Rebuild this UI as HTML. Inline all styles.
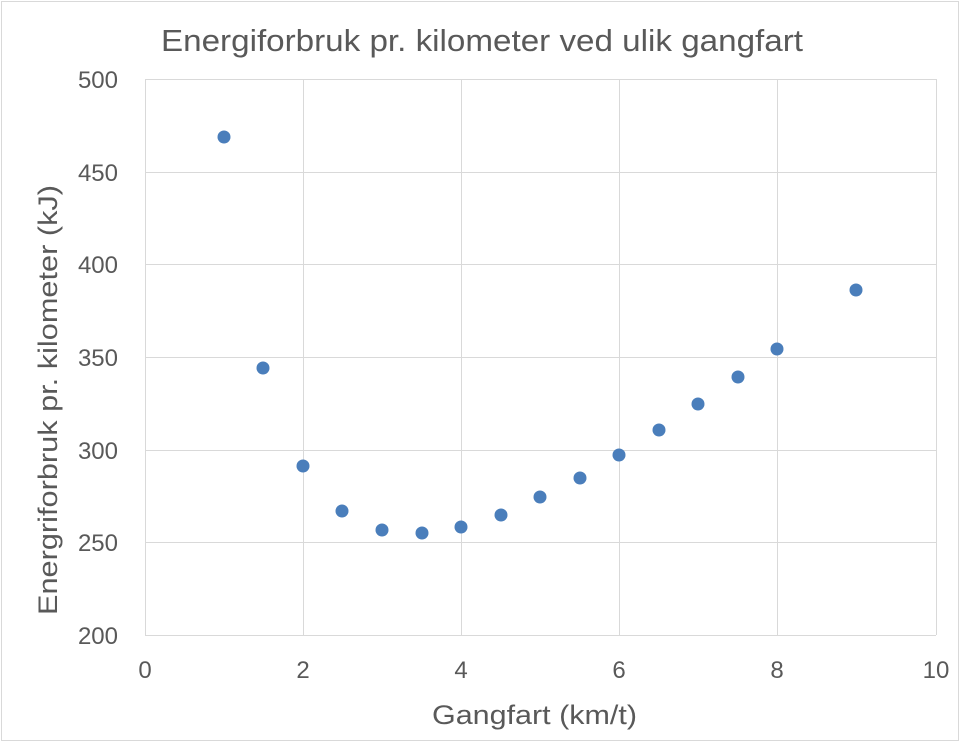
<!DOCTYPE html>
<html><head><style>body{margin:0;background:#fff}svg{display:block}text{font-family:"Liberation Sans",sans-serif;fill:#595959}</style></head>
<body>
<svg width="960" height="742" viewBox="0 0 960 742">
<rect x="1.5" y="1.5" width="957" height="739" fill="#fff" stroke="#d9d9d9"/>
<g stroke="#d9d9d9" stroke-width="1">
<line x1="145" y1="79.5" x2="936" y2="79.5"/>
<line x1="145" y1="172.5" x2="936" y2="172.5"/>
<line x1="145" y1="264.5" x2="936" y2="264.5"/>
<line x1="145" y1="357.5" x2="936" y2="357.5"/>
<line x1="145" y1="450.5" x2="936" y2="450.5"/>
<line x1="145" y1="542.5" x2="936" y2="542.5"/>
<line x1="303.5" y1="79" x2="303.5" y2="635"/>
<line x1="461.5" y1="79" x2="461.5" y2="635"/>
<line x1="619.5" y1="79" x2="619.5" y2="635"/>
<line x1="777.5" y1="79" x2="777.5" y2="635"/>
<line x1="936.5" y1="79" x2="936.5" y2="635"/>
<line x1="145.5" y1="79" x2="145.5" y2="635"/>
<line x1="145" y1="635.5" x2="936" y2="635.5"/>
</g>
<text x="161" y="51" font-size="31" textLength="642" lengthAdjust="spacingAndGlyphs">Energiforbruk pr. kilometer ved ulik gangfart</text>
<g font-size="24" text-anchor="end">
<text x="118" y="88">500</text><text x="118" y="181">450</text><text x="118" y="273">400</text>
<text x="118" y="366">350</text><text x="118" y="459">300</text><text x="118" y="551">250</text><text x="118" y="644">200</text>
</g>
<g font-size="24" text-anchor="middle">
<text x="145" y="678">0</text><text x="303" y="678">2</text><text x="461" y="678">4</text>
<text x="619" y="678">6</text><text x="777" y="678">8</text><text x="936" y="678">10</text>
</g>
<text x="432" y="724" font-size="27" textLength="205" lengthAdjust="spacingAndGlyphs">Gangfart (km/t)</text>
<text transform="translate(57,615) rotate(-90)" font-size="27" textLength="430" lengthAdjust="spacingAndGlyphs">Energriforbruk pr. kilometer (kJ)</text>
<g fill="#4a7ebb">
<circle cx="224" cy="137" r="6.5"/><circle cx="263" cy="368" r="6.5"/><circle cx="303" cy="466" r="6.5"/>
<circle cx="342" cy="511" r="6.5"/><circle cx="382" cy="530" r="6.5"/><circle cx="422" cy="533" r="6.5"/>
<circle cx="461" cy="527" r="6.5"/><circle cx="501" cy="515" r="6.5"/><circle cx="540" cy="497" r="6.5"/>
<circle cx="580" cy="478" r="6.5"/><circle cx="619" cy="455" r="6.5"/><circle cx="659" cy="430" r="6.5"/>
<circle cx="698" cy="404" r="6.5"/><circle cx="738" cy="377" r="6.5"/><circle cx="777" cy="349" r="6.5"/>
<circle cx="856" cy="290" r="6.5"/>
</g>
</svg>
</body></html>
